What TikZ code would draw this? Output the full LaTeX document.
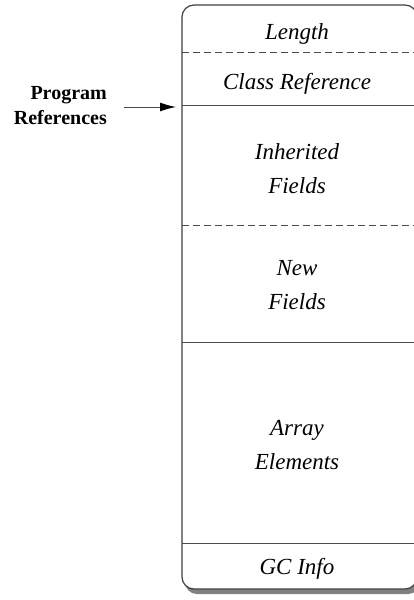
\documentclass[tikz,border=0pt]{standalone}
\usepackage{fontspec}
\setmainfont{Liberation Serif}
\usetikzlibrary{arrows.meta}

\tikzset{
  fieldtext/.style={font=\fontsize{23}{34}\selectfont\itshape,align=center},
  sidetext/.style={font=\fontsize{20}{25}\selectfont\bfseries,align=right},
  sep/.style={line width=1pt,draw=black!70},
  sepdash/.style={sep,dash pattern=on 7pt off 4pt}
}

\begin{document}
\begin{tikzpicture}[x=1pt,y=-1pt]
  \useasboundingbox (0,0) rectangle (414,600);
  % object outline with its shadow
  \coordinate (tl) at (182,5);
  \coordinate (br) at (417,589);
  \fill[black!50,rounded corners=12] (185,9) rectangle (420,594);
  \draw[fill=white,line width=1.2pt,draw=black!75,rounded corners=12] (tl) rectangle (br);
  % separators
  \draw[sepdash] (182,52) -- (417,52);
  \draw[sep]     (182,105) -- (417,105);
  \draw[sepdash] (182,225) -- (417,225);
  \draw[sep]     (182,342) -- (417,342);
  \draw[sep]     (182,543) -- (417,543);
  % Field labels
  \node[fieldtext] (len)   at (297,34)  {Length};
  \node[fieldtext] (cls)   at (297,84)  {Class Reference};
  \node[fieldtext] (inh)   at (297,169) {Inherited\\Fields};
  \node[fieldtext] (new)   at (297,285) {New\\Fields};
  \node[fieldtext] (arr)   at (297,445) {Array\\Elements};
  \node[fieldtext] (gc)    at (297,569) {GC Info};
  % Program references pointing at the object
  \node[sidetext,anchor=east,inner xsep=0pt]  (prog)  at (107,106)  {Program\\References};
  \coordinate (ref) at (176,107);
  \draw[-{Latex[length=16pt,width=9pt,color=black,fill=black]},line width=1pt,draw=black!70] (prog.east |- ref) ++(17,0) -- (ref);
\end{tikzpicture}
\end{document}
